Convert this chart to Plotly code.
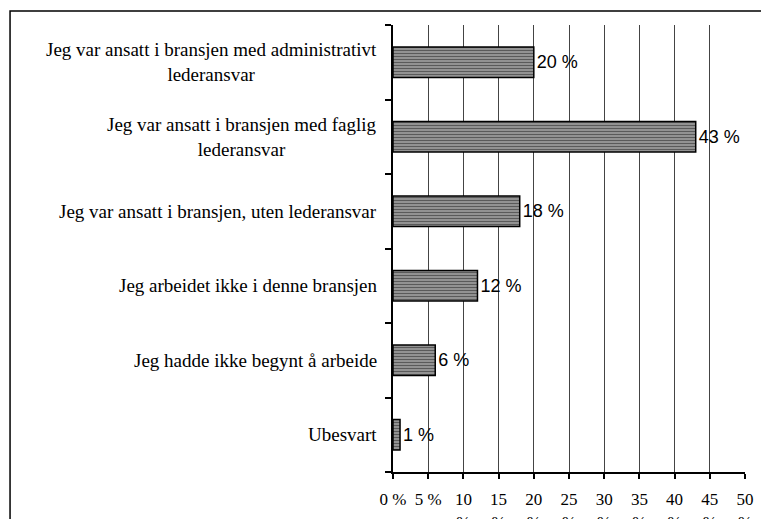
import plotly.graph_objects as go

categories = [
    "Jeg var ansatt i bransjen med administrativt<br>lederansvar",
    "Jeg var ansatt i bransjen med faglig<br>lederansvar",
    "Jeg var ansatt i bransjen, uten lederansvar",
    "Jeg arbeidet ikke i denne bransjen",
    "Jeg hadde ikke begynt å arbeide",
    "Ubesvart",
]
values = [20, 43, 18, 12, 6, 1]
value_labels = ["20 %", "43 %", "18 %", "12 %", "6 %", "1 %"]
tick_vals = [0, 5, 10, 15, 20, 25, 30, 35, 40, 45, 50]
tick_text = ["0 %", "5 %", "10<br>%", "15<br>%", "20<br>%", "25<br>%", "30<br>%",
             "35<br>%", "40<br>%", "45<br>%", "50<br>%"]

SERIF = "Liberation Serif, Times New Roman, serif"
SANS = "Liberation Sans, Arial, sans-serif"

# page has an 8px body margin; figure sized to fill the rest of the window
W, H = 761, 511
L, R, T, B = 384.5, 737, 17, 464

fig = go.Figure()
fig.add_trace(go.Bar(
    x=values, y=list(range(len(categories))), orientation="h",
    text=value_labels, textposition="outside", cliponaxis=False,
    textfont=dict(family=SANS, size=18, color="black"),
    marker=dict(color="#8a8a8a", line=dict(color="black", width=1.5),
                pattern=dict(shape="-", size=3, solidity=0.5,
                             fgcolor="#5a5a5a", bgcolor="#a4a4a4", fillmode="replace")),
))

annotations = []
for i, c in enumerate(categories):
    annotations.append(dict(
        text=c, x=(370 - L) / (R - L), xref="paper", y=i, yref="y",
        xanchor="right", yanchor="middle", align="center", showarrow=False,
        font=dict(family=SERIF, size=19, color="black"),
    ))

fig.update_layout(
    width=W, height=H,
    margin=dict(l=L, r=W - R, t=T, b=H - B, pad=0, autoexpand=False),
    paper_bgcolor="white", plot_bgcolor="white",
    showlegend=False, bargap=0.59,
    annotations=annotations,
    shapes=[dict(type="rect", xref="paper", yref="paper",
                 x0=(1 - L) / (R - L), x1=1.3,
                 y0=-0.3, y1=(B - 3) / (B - T),
                 line=dict(color="black", width=1.5), layer="below")],
    xaxis=dict(range=[0, 50], tickvals=tick_vals, ticktext=tick_text,
               showgrid=True, gridcolor="#444444", gridwidth=1,
               showline=True, linecolor="black", linewidth=2,
               ticks="outside", ticklen=5, tickcolor="black", tickwidth=1.5,
               ticklabelstandoff=6,
               tickfont=dict(family=SERIF, size=17, color="black"),
               zeroline=False, fixedrange=True, automargin=False),
    yaxis=dict(range=[5.5, -0.5], tickvals=list(range(len(categories))),
               ticktext=[""] * len(categories),
               showgrid=False, showline=True, linecolor="black", linewidth=2,
               ticks="", zeroline=False, fixedrange=True, automargin=False,
               minor=dict(tickvals=[-0.5, 0.5, 1.5, 2.5, 3.5, 4.5, 5.5],
                          ticks="outside", ticklen=6, tickcolor="black",
                          tickwidth=1.5, showgrid=False)),
)

fig.write_html("out.html")
